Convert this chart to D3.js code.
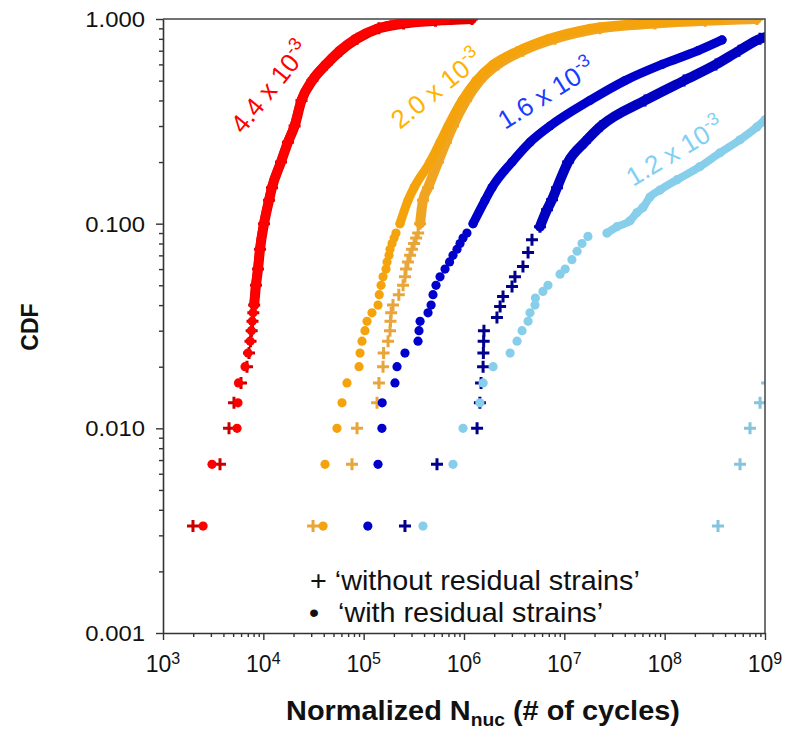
<!DOCTYPE html>
<html><head><meta charset="utf-8">
<script src="https://cdn.jsdelivr.net/npm/d3@7"></script>
<style>body{margin:0;background:#fff}svg{display:block}</style>
</head><body>
<svg id="chart" width="785" height="732"></svg>
<script>
// ---------- DATA (N cycles, CDF) ----------
const redWithout = [[1990,0.00333],[3700,0.00667],[4550,0.01],[5100,0.01333],[5990,0.01667],[6870,0.02],[7200,0.02333],[7450,0.02667],[7650,0.03],[7800,0.03333],[7950,0.03667],[8100,0.04],
  [8450,0.05],[8850,0.06],[9270,0.075],[10160,0.1],[11400,0.13],[12200,0.15],[15000,0.2],[17600,0.25],[20500,0.3],[24000,0.4],[30800,0.5],[42500,0.6],[59000,0.7],[86000,0.8],[142000,0.9],[250000,0.95],[520000,0.98],[1200000,1.0]];
const redWith = [[2510,0.00333],[3080,0.00667],[5470,0.01],[5590,0.01333],[5650,0.01667],[6570,0.02],[7030,0.02333],[7400,0.02667],[7600,0.03],[7750,0.03333],[7900,0.03667],[8070,0.04],
  [8400,0.05],[8800,0.06],[9200,0.075],[10100,0.1],[11300,0.13],[12100,0.15],[14900,0.2],[17500,0.25],[20300,0.3],[23800,0.4],[30300,0.5],[41500,0.6],[57000,0.7],[82000,0.8],[136000,0.9],[225000,0.95],[420000,0.98],[650000,0.997]];
const orangeWithout = [[31300,0.00333],[76500,0.00667],[85900,0.01],[136000,0.01333],[142000,0.01667],[156000,0.02],[158000,0.02333],[175000,0.02667],[183000,0.03],[185000,0.03333],[188000,0.03667],[196000,0.04],
  [224000,0.045],[247000,0.05],[258000,0.055],[264000,0.06],[276000,0.065],[290000,0.07],[303000,0.075],[318000,0.08],[333000,0.085],[349000,0.09],[365000,0.1],
  [390000,0.13],[438000,0.15],[551000,0.2],[662000,0.25],[777000,0.3],[1050000,0.4],[1440000,0.5],[2180000,0.6],[3870000,0.7],[8070000,0.8],[22700000,0.9],[80200000,0.95],[253000000,0.98],[830000000,1.0]];
const orangeWith = [[39400,0.00333],[41200,0.00667],[54200,0.01],[60800,0.01333],[68200,0.01667],[89900,0.02],[92000,0.02333],[96200,0.02667],[103000,0.03],[108000,0.03333],[121000,0.03667],[139000,0.04],
  [143000,0.045],[149000,0.05],[156000,0.055],[167000,0.06],[171000,0.065],[179000,0.07],[183000,0.075],[192000,0.08],[201000,0.085],[210000,0.09],[230000,0.1],
  [277000,0.13],[318000,0.15],[458000,0.2],[577000,0.25],[693000,0.3],[955000,0.4],[1320000,0.5],[1950000,0.6],[3450000,0.7],[6870000,0.8],[18000000,0.9],[56800000,0.95],[179000000,0.98],[356000000,1.0]];
const blueWith = [[110000,0.00333],[139000,0.00667],[152000,0.01],[153000,0.01333],[205000,0.01667],[215000,0.02],[258000,0.02333],[348000,0.02667],[356000,0.03],[365000,0.03333],[438000,0.03667],[470000,0.04],
  [491000,0.045],[526000,0.05],[577000,0.055],[647000,0.06],[718000,0.065],[777000,0.07],[852000,0.075],[913000,0.08],[978000,0.085],[1070000,0.09],[1230000,0.1],
  [1620000,0.13],[1900000,0.15],[3010000,0.2],[4550000,0.25],[7190000,0.3],[18000000,0.4],[40300000,0.5],[94200000,0.6],[215000000,0.7],[373000000,0.79]];
const blueWithout = [[258000,0.00333],[538000,0.00667],[1350000,0.01],[1440000,0.01333],[1480000,0.01667],[1550000,0.02],[1560000,0.02333],[1570000,0.02667],[1580000,0.03],[2130000,0.0348],[2290000,0.0394],[2450000,0.0441],
  [3010000,0.0493],[3220000,0.0551],[3870000,0.0617],[4350000,0.0722],[4760000,0.0835],[5720000,0.0967],[6720000,0.117],
  [7540000,0.131],[8460000,0.15],[10900000,0.2],[16000000,0.25],[23200000,0.3],[63700000,0.4],[156000000,0.5],[325000000,0.6],[551000000,0.7],[891000000,0.8],[1150000000,0.83]];
const lightWith = [[390000,0.00333],[777000,0.00667],[978000,0.01],[1440000,0.01333],[1550000,0.01667],[1950000,0.02],[2880000,0.02333],[3380000,0.02667],[3790000,0.03],[4350000,0.03333],[4550000,0.03667],[5100000,0.04],[5150000,0.04333],[6120000,0.04667],[6870000,0.05],[9060000,0.05667],[10200000,0.06],[11900000,0.06667],[13400000,0.07333],[15000000,0.08],[17200000,0.08667],
  [26600000,0.09],[33500000,0.09667],[45200000,0.1033],[53000000,0.1133],[60800000,0.12],[71400000,0.135],[89900000,0.146],[133000000,0.164],[225000000,0.19],[356000000,0.222],[564000000,0.257],[832000000,0.297],[1000000000,0.322]];
const lightWithout = [[340000000,0.00333],[564000000,0.00667],[709000000,0.01],[893000000,0.01333],[1050000000,0.01667]];

const yTickValues = [0.001, 0.01, 0.1, 1];
const yTickLabels = ["0.001", "0.010", "0.100", "1.000"];
const xTickValues = [1e3, 1e4, 1e5, 1e6, 1e7, 1e8, 1e9];
const xTickExponents = ["3", "4", "5", "6", "7", "8", "9"];
const strainLabels = ["4.4 x 10", "2.0 x 10", "1.6 x 10", "1.2 x 10"];
const strainExponent = "-3";
const legendLabels = ["\u2018without residual strains\u2019", "\u2018with residual strains\u2019"];

// ---------- CHART ----------
const FONT = "'Liberation Sans', Arial, Helvetica, sans-serif";
const svg = d3.select("#chart");
svg.append("rect").attr("width", 785).attr("height", 732).attr("fill", "#fff");

const L = 163, R = 765, T = 19, B = 633;
const x = d3.scaleLog().domain([1e3, 1e9]).range([L, R]);
const y = d3.scaleLog().domain([0.001, 1]).range([B, T]);

svg.append("clipPath").attr("id", "plotclip")
  .append("rect").attr("x", L).attr("y", T).attr("width", R - L).attr("height", B - T);

const series = [
  {data: redWithout,   shape: "cross",  band: 0.04, color: "#e00000", mark: "#c80000"},
  {data: redWith,      shape: "circle", band: 0.04, color: "#ff0000", mark: "#ff0000"},
  {data: orangeWithout,shape: "cross",  band: 0.1,  color: "#f0a522", mark: "#e8a53a"},
  {data: orangeWith,   shape: "circle", band: 0.1,  color: "#f5a30c", mark: "#f5a30c"},
  {data: blueWithout,  shape: "cross",  band: 0.09, color: "#0000c0", mark: "#00008c"},
  {data: blueWith,     shape: "circle", band: 0.1,  color: "#0000cc", mark: "#0000cc"},
  {data: lightWithout, shape: "cross",  band: 2,    color: "#86c3dc", mark: "#86c3dc"},
  {data: lightWith,    shape: "circle", band: 0.09, color: "#87ceeb", mark: "#87ceeb"},
];

const plot = svg.append("g").attr("clip-path", "url(#plotclip)");
const line = d3.line().x(d => x(d[0])).y(d => y(d[1])).curve(d3.curveMonotoneX);

// crosses first, then circles
const order = [0, 2, 4, 6, 1, 3, 5, 7];
order.forEach(i => {
  const s = series[i];
  const g = plot.append("g");
  const dense = s.data.filter(d => d[1] >= s.band);
  if (dense.length > 1) {
    g.append("path").attr("d", line(dense)).attr("fill", "none")
      .attr("stroke", s.color).attr("stroke-width", s.shape === "cross" ? 10 : (i === 7 ? 8 : 9))
      .attr("stroke-linecap", "round").attr("stroke-linejoin", "round");
  }
  if (s.shape === "circle") {
    g.selectAll("circle").data(s.data).join("circle")
      .attr("cx", d => x(d[0])).attr("cy", d => y(d[1])).attr("r", 4.6)
      .attr("fill", s.mark);
  } else {
    g.selectAll("path.c").data(s.data).join("path").attr("class", "c")
      .attr("d", d => { const cx = x(d[0]), cy = y(d[1]);
        return `M${cx-6},${cy}H${cx+6}M${cx},${cy-6}V${cy+6}`; })
      .attr("stroke", d => d[1] >= s.band ? s.color : s.mark).attr("stroke-width", 3).attr("fill", "none");
  }
});

// frame (top & right)
svg.append("path").attr("d", `M${L},${T}H${R}V${B}`).attr("fill", "none")
  .attr("stroke", "#444").attr("stroke-width", 1.5);

// minor tick values
const minor = [];
for (let e = -3; e < 0; e++) for (let k = 2; k <= 9; k++) minor.push(k * Math.pow(10, e));
const minorX = [];
for (let e = 3; e < 9; e++) for (let k = 2; k <= 9; k++) minorX.push(k * Math.pow(10, e));

// Y axis
const yAx = svg.append("g").attr("transform", `translate(${L},0)`);
yAx.call(d3.axisLeft(y).tickValues(yTickValues).tickSize(7).tickSizeOuter(0).tickFormat(""));
yAx.append("g").call(d3.axisLeft(y).tickValues(minor).tickSize(4).tickSizeOuter(0).tickFormat(""))
  .select(".domain").remove();
yAx.selectAll(".domain").attr("stroke", "#333").attr("stroke-width", 1.6);
yAx.selectAll(".tick line").attr("stroke", "#333").attr("stroke-width", 1.4);
svg.selectAll("text.ylab").data(yTickValues).join("text").attr("class", "ylab")
  .attr("transform", d => `translate(145,${y(d) + 8}) scale(1.06,1)`)
  .attr("text-anchor", "end").attr("font-family", FONT).attr("font-size", 22.5).attr("fill", "#111")
  .text((d, i) => yTickLabels[i]);

// X axis
const xAx = svg.append("g").attr("transform", `translate(0,${B})`);
xAx.call(d3.axisBottom(x).tickValues(xTickValues).tickSize(7).tickSizeOuter(0).tickFormat(""));
xAx.append("g").call(d3.axisBottom(x).tickValues(minorX).tickSize(4).tickSizeOuter(0).tickFormat(""))
  .select(".domain").remove();
xAx.selectAll(".domain").attr("stroke", "#333").attr("stroke-width", 1.6);
xAx.selectAll(".tick line").attr("stroke", "#333").attr("stroke-width", 1.4);
const xl = svg.selectAll("text.xlab").data(xTickValues).join("text").attr("class", "xlab")
  .attr("x", d => x(d)).attr("y", 672).attr("text-anchor", "middle")
  .attr("font-family", FONT).attr("font-size", 23).attr("fill", "#111");
xl.append("tspan").text("10");
xl.append("tspan").attr("dy", -8).attr("font-size", 16).text((d, i) => xTickExponents[i]);

// axis titles
const xt = svg.append("text").attr("transform", "translate(483,720) scale(1.07,1)").attr("text-anchor", "middle")
  .attr("font-family", FONT).attr("font-size", 27).attr("font-weight", "bold").attr("fill", "#111");
xt.append("tspan").text("Normalized N");
xt.append("tspan").attr("dy", 6).attr("font-size", 18).text("nuc");
xt.append("tspan").attr("dy", -6).text(" (# of cycles)");

svg.append("text").attr("transform", "translate(38,327) rotate(-90)").attr("text-anchor", "middle")
  .attr("font-family", FONT).attr("font-size", 23).attr("font-weight", "bold").attr("fill", "#111")
  .text("CDF");

// strain annotations
const annPos = [
  {x: 243, y: 135, a: -51, c: "#ff0000"},
  {x: 400, y: 130, a: -39, c: "#ffb300"},
  {x: 505, y: 130, a: -32, c: "#1a3cff"},
  {x: 633, y: 187, a: -31, c: "#7fd0f2"},
];
annPos.forEach((p, i) => {
  const t = svg.append("text").attr("transform", `translate(${p.x},${p.y}) rotate(${p.a})`)
    .attr("font-family", FONT).attr("font-size", 26).attr("fill", p.c);
  t.append("tspan").text(strainLabels[i]);
  t.append("tspan").attr("dy", -11).attr("font-size", 18).text(strainExponent);
});

// legend
svg.append("text").attr("transform", "translate(310,590) scale(1.065,1)").attr("font-family", FONT).attr("font-size", 27).attr("fill", "#111")
  .text("+ " + legendLabels[0]);
svg.append("text").attr("transform", "translate(309,622) scale(1.065,1)").attr("font-family", FONT).attr("font-size", 27).attr("fill", "#111")
  .text("\u2022");
svg.append("text").attr("transform", "translate(338,622) scale(1.065,1)").attr("font-family", FONT).attr("font-size", 27).attr("fill", "#111")
  .text(legendLabels[1]);
</script>
</body></html>
